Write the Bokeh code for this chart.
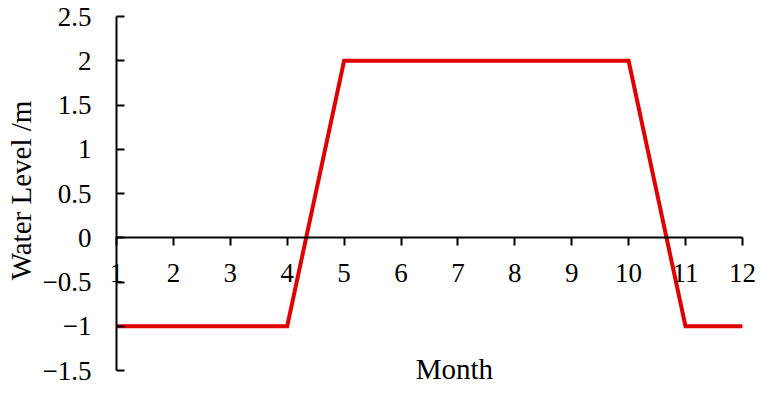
import math
from bokeh.plotting import figure
from bokeh.models import Range1d, FixedTicker, CustomJSTickFormatter, Label
from bokeh.embed import file_html
from bokeh.resources import INLINE

months = [1, 2, 3, 4, 5, 6, 7, 8, 9, 10, 11, 12]
water_level = [-1, -1, -1, -1, 2, 2, 2, 2, 2, 2, -1, -1]
y_ticks = [-1.5, -1, -0.5, 0, 0.5, 1, 1.5, 2, 2.5]
x_label = "Month"
y_label = "Water Level /m"

FONT = "Liberation Serif"

# canvas layout (pixels)
W, H = 756, 386
X0_PX, PX_PER_MONTH = 116, 56.9      # where month 1 sits, spacing
YTOP_PX, PX_PER_UNIT = 16, 88.5      # where the top tick sits, spacing

x_start = months[0] - X0_PX / PX_PER_MONTH
x_end = months[0] + (W - X0_PX) / PX_PER_MONTH
y_end = y_ticks[-1] + YTOP_PX / PX_PER_UNIT
y_start = y_ticks[-1] - (H - YTOP_PX) / PX_PER_UNIT

p = figure(width=W, height=H, output_backend="svg", toolbar_location=None,
           x_range=Range1d(x_start, x_end), y_range=Range1d(y_start, y_end),
           min_border=0, min_border_left=0, min_border_right=0,
           min_border_top=0, min_border_bottom=0)
p.outline_line_color = None
p.xgrid.visible = False
p.ygrid.visible = False
p.background_fill_color = "white"
p.border_fill_color = "white"

p.line(months, water_level, line_width=4, line_color="#E00000", line_join="miter")

fmt = CustomJSTickFormatter(code="""
    const s = String(Math.abs(tick));
    return tick < 0 ? "\u2212" + s : s;
""")

xa = p.xaxis[0]
xa.fixed_location = 0
xa.bounds = (months[0], months[-1])
xa.ticker = FixedTicker(ticks=months)
xa.minor_tick_line_color = None
xa.major_tick_in = 0
xa.major_tick_out = 8
xa.axis_line_width = 2
xa.major_tick_line_width = 2
xa.axis_line_color = "black"
xa.major_tick_line_color = "black"
xa.major_label_text_font = FONT
xa.major_label_text_font_size = "27px"
xa.major_label_text_color = "black"
xa.major_label_standoff = 18

ya = p.yaxis[0]
ya.fixed_location = months[0]
ya.bounds = (y_ticks[0], y_ticks[-1])
ya.ticker = FixedTicker(ticks=y_ticks)
ya.formatter = fmt
ya.minor_tick_line_color = None
ya.major_tick_in = 8
ya.major_tick_out = 0
ya.axis_line_width = 2
ya.major_tick_line_width = 2
ya.axis_line_color = "black"
ya.major_tick_line_color = "black"
ya.major_label_text_font = FONT
ya.major_label_text_font_size = "27px"
ya.major_label_text_color = "black"
ya.major_label_standoff = 25

mid_x = (months[0] + months[-1]) / 2
p.add_layout(Label(x=mid_x, y=y_ticks[0], x_offset=25, y_offset=2, text=x_label,
                   text_font=FONT, text_font_size="29px", text_color="black",
                   text_align="center", text_baseline="alphabetic"))

mid_y = (y_ticks[0] + y_ticks[-1]) / 2
p.add_layout(Label(x=months[0], y=mid_y, x_offset=-96, y_offset=3, text=y_label,
                   angle=math.pi / 2,
                   text_font=FONT, text_font_size="29px", text_color="black",
                   text_align="center", text_baseline="alphabetic"))

open("out.html", "w").write(file_html(p, INLINE))
